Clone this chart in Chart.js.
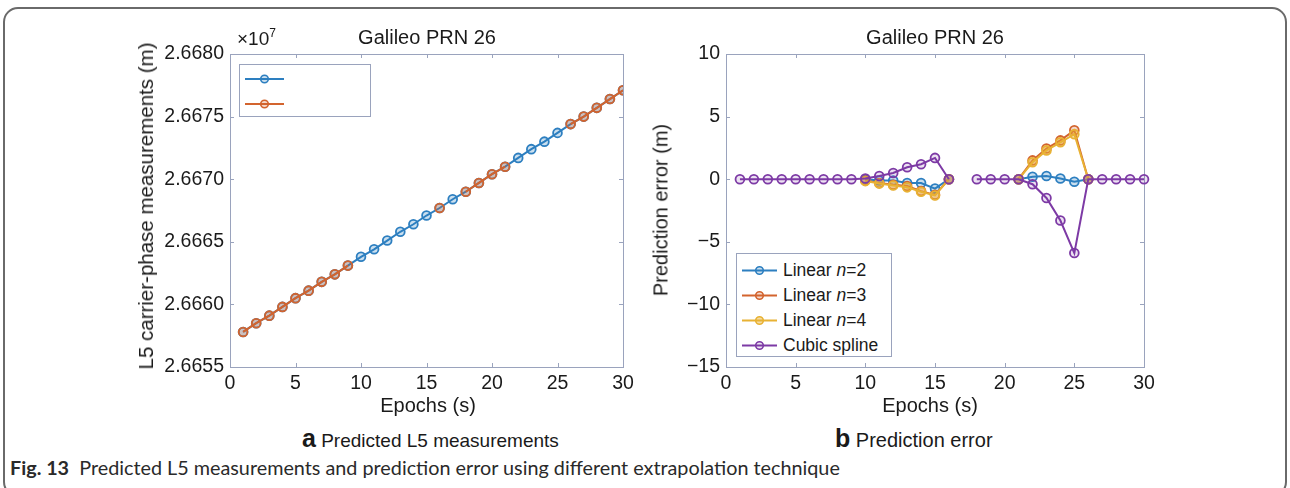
<!DOCTYPE html>
<html lang="en">
<head>
<meta charset="UTF-8">
<title>Galileo PRN 26 - predicted L5 measurements and prediction error</title>
<script src="https://cdn.jsdelivr.net/npm/chart.js"></script>
<style>
    body {
        margin: 0;
        background: #ffffff;
        font-family: "Liberation Sans", Arial, sans-serif;
        color: #1a1a1a;
    }
    #figure {
        position: relative;
        width: 1290px;
        height: 488px;
        overflow: hidden;
    }
    .frame {
        position: absolute;
        left: 3px;
        top: 7px;
        width: 1280px;
        height: 486px;
        border: 2px solid #6a6a6a;
        border-radius: 15px;
    }
    canvas { position: absolute; }
    .txt {
        position: absolute;
        white-space: nowrap;
        transform: translate(-50%, -50%);
    }
    .txtL {
        position: absolute;
        white-space: nowrap;
        transform: translateY(-50%);
    }
    .ylab {
        position: absolute;
        white-space: nowrap;
        transform: translate(-50%, -50%) rotate(-90deg);
    }
    .legend {
        position: absolute;
        background: #ffffff;
        border: 1px solid #9aa3bd;
        box-sizing: border-box;
    }
    .legend .row {
        position: absolute;
        left: 5px;
        display: flex;
        align-items: center;
        transform: translateY(-50%);
        font-size: 17.5px;
        white-space: nowrap;
    }
    .legend svg { margin-right: 6px; }
    .sub b { font-size: 25px; }
    .caption {
        font-family: Lato, "Open Sans", sans-serif;
        font-size: 19.8px;
        color: #2a2a2a;
    }
</style>
</head>
<body>
<div id="figure">
    <div class="frame"></div>

    <canvas id="chartL5" width="520" height="370" style="left:130px; top:30px;"></canvas>
    <canvas id="chartErr" width="540" height="370" style="left:630px; top:30px;"></canvas>

    <div class="txt" style="left:427px; top:37px; font-size:20px;">Galileo PRN 26</div>
    <div class="txtL" style="left:237px; top:38px; font-size:19px;">×10<sup style="font-size:12px;">7</sup></div>
    <div class="txt" style="left:935px; top:37px; font-size:20px;">Galileo PRN 26</div>

    <div class="ylab" style="left:146px; top:206px; font-size:20.5px;">L5 carrier-phase measurements (m)</div>
    <div class="ylab" style="left:661px; top:210px; font-size:20px;">Prediction error (m)</div>

    <div class="txt" style="left:428px; top:405px; font-size:20px;">Epochs (s)</div>
    <div class="txt" style="left:930px; top:405px; font-size:20px;">Epochs (s)</div>

    <div class="txtL sub" style="left:302px; top:438px; font-size:19px;"><b>a</b> Predicted L5 measurements</div>
    <div class="txtL sub" style="left:835px; top:438px; font-size:20px;"><b>b</b> Prediction error</div>

    <div class="txtL caption" style="left:10px; top:467px;"><b>Fig. 13</b>&nbsp; Predicted L5 measurements and prediction error using different extrapolation technique</div>

    <div id="legendL5" class="legend" style="left:239px; top:64px; width:132px; height:53px;"></div>
    <div id="legendErr" class="legend" style="left:736px; top:253px; width:156px; height:104px;"></div>
</div>

<script>
    // ---- data ----
    const epochs = [1, 2, 3, 4, 5, 6, 7, 8, 9, 10, 11, 12, 13, 14, 15,
                    16, 17, 18, 19, 20, 21, 22, 23, 24, 25, 26, 27, 28, 29, 30];

    // L5 carrier-phase (x 10^7 m), blue = full track, orange = overlaid epochs
    const l5Blue = [2.66578, 2.66585, 2.66591, 2.66598, 2.66605, 2.66611, 2.66618, 2.66624, 2.66631, 2.66638,
                    2.66644, 2.66651, 2.66658, 2.66664, 2.66671, 2.66677, 2.66684, 2.66690, 2.66697, 2.66704,
                    2.66710, 2.66717, 2.66724, 2.66730, 2.66737, 2.66744, 2.66750, 2.66757, 2.66764, 2.66771];
    const l5Orange = [2.66578, 2.66585, 2.66591, 2.66598, 2.66605, 2.66611, 2.66618, 2.66624, 2.66631, null,
                      null, null, null, null, null, 2.66677, null, 2.66690, 2.66697, 2.66704,
                      2.66710, null, null, null, null, 2.66744, 2.66750, 2.66757, 2.66764, 2.66771];

    // prediction error (m)
    const linearN2 = [null, null, null, null, null, null, null, null, null, 0,
                      -0.1, -0.1, -0.3, -0.3, -0.75, 0, null, null, null, null,
                      0, 0.2, 0.25, 0.05, -0.2, 0, null, null, null, null];
    const linearN3 = [null, null, null, null, null, null, null, null, null, -0.1,
                      -0.3, -0.45, -0.55, -0.95, -1.25, 0, null, null, null, null,
                      0, 1.5, 2.45, 3.1, 3.9, 0, null, null, null, null];
    const linearN4 = [null, null, null, null, null, null, null, null, null, -0.15,
                      -0.35, -0.5, -0.65, -1.0, -1.3, 0, null, null, null, null,
                      0, 1.35, 2.3, 2.95, 3.6, 0, null, null, null, null];
    const cubicSpline = [0, 0, 0, 0, 0, 0, 0, 0, 0, 0.05,
                         0.25, 0.5, 0.95, 1.2, 1.7, 0, null, 0, 0, 0,
                         0, -0.4, -1.5, -3.3, -5.9, 0, 0, 0, 0, 0];

    const errNames = ['Linear <i>n</i>=2', 'Linear <i>n</i>=3', 'Linear <i>n</i>=4', 'Cubic spline'];

    // ---- styles ----
    const blue = '#2d7fc0', orange = '#d3642e', yellow = '#e8b234', purple = '#7d3aa5';
    const fills = { [blue]: 'rgba(45,127,192,0.25)', [orange]: 'rgba(211,100,46,0.25)',
                    [yellow]: 'rgba(232,178,52,0.45)', [purple]: 'rgba(125,58,165,0.15)' };
    const frameColor = '#9aa3bd';
    const tickColor = '#1a1a1a';
    const tickLen = 4;

    Chart.defaults.font.family = "'Liberation Sans', Arial, sans-serif";
    Chart.defaults.color = tickColor;

    // box round the axes plus inward tick marks, like the original figure
    const axisBox = {
        id: 'axisBox',
        beforeDatasetsDraw(chart) {
            const { ctx, chartArea: a } = chart;
            const xs = chart.scales.x, ys = chart.scales.y;
            ctx.save();
            ctx.strokeStyle = frameColor;
            ctx.lineWidth = 1;
            ctx.strokeRect(Math.round(a.left) + 0.5, Math.round(a.top) + 0.5,
                           Math.round(a.width), Math.round(a.height));
            ctx.beginPath();
            xs.ticks.forEach(t => {
                const px = Math.round(xs.getPixelForValue(t.value)) + 0.5;
                ctx.moveTo(px, a.bottom); ctx.lineTo(px, a.bottom - tickLen);
                ctx.moveTo(px, a.top); ctx.lineTo(px, a.top + tickLen);
            });
            ys.ticks.forEach(t => {
                const py = Math.round(ys.getPixelForValue(t.value)) + 0.5;
                ctx.moveTo(a.left, py); ctx.lineTo(a.left + tickLen, py);
                ctx.moveTo(a.right, py); ctx.lineTo(a.right - tickLen, py);
            });
            ctx.stroke();
            ctx.restore();
        }
    };

    function series(label, values, color, order) {
        return {
            label: label,
            order: order,
            data: epochs.map((e, i) => ({ x: e, y: values[i] })),
            borderColor: color,
            backgroundColor: color,
            pointBackgroundColor: fills[color],
            pointBorderColor: color,
            pointRadius: 4.4,
            pointBorderWidth: 1.8,
            borderWidth: 2,
            tension: 0,
            spanGaps: false
        };
    }

    function makeChart(id, datasets, yOpts, yWidth, rightPad, clip) {
        return new Chart(document.getElementById(id), {
            type: 'line',
            data: { datasets: datasets },
            plugins: [axisBox],
            options: {
                responsive: false,
                animation: false,
                devicePixelRatio: 1,
                clip: clip,
                layout: { padding: { top: 24, right: rightPad, left: 0, bottom: 0 } },
                plugins: { legend: { display: false }, title: { display: false }, tooltip: { enabled: false } },
                scales: {
                    x: {
                        type: 'linear', min: 0, max: 30,
                        ticks: { stepSize: 5, autoSkip: false, maxRotation: 0, padding: 5, font: { size: 19.5 } },
                        grid: { display: false, drawTicks: false },
                        border: { display: false },
                        afterFit(s) { s.height = 33; }
                    },
                    y: Object.assign({
                        grid: { display: false, drawTicks: false },
                        border: { display: false },
                        afterFit(s) { s.width = yWidth; }
                    }, yOpts)
                }
            }
        });
    }

    makeChart('chartL5', [
        series('', l5Blue, blue, 2),
        series('', l5Orange, orange, 1)
    ], {
        min: 2.6655, max: 2.668,
        ticks: { stepSize: 0.0005, padding: 6, font: { size: 19.5 }, callback: v => v.toFixed(4) }
    }, 100, 27, undefined);

    makeChart('chartErr', [
        series('Linear n=2', linearN2, blue, 4),
        series('Linear n=3', linearN3, orange, 3),
        series('Linear n=4', linearN4, yellow, 2),
        series('Cubic spline', cubicSpline, purple, 1)
    ], {
        min: -15, max: 10,
        ticks: { stepSize: 5, padding: 6, font: { size: 19.5 },
                 callback: v => (v < 0 ? '\u2212' + Math.abs(v) : String(v)) }
    }, 96, 26, false);

    // legends drawn as html boxes
    function sample(color, w) {
        return '<svg width="' + w + '" height="12"><line x1="0" y1="6" x2="' + w + '" y2="6" stroke="' + color +
               '" stroke-width="2"/><circle cx="' + (w / 2) + '" cy="6" r="3.8" fill="' + fills[color] +
               '" stroke="' + color + '" stroke-width="1.6"/></svg>';
    }
    function buildLegend(id, colors, names, w, rowTop, rowGap) {
        const box = document.getElementById(id);
        colors.forEach((c, i) => {
            const row = document.createElement('div');
            row.className = 'row';
            row.style.top = (rowTop + i * rowGap) + 'px';
            row.innerHTML = sample(c, w) + '<span>' + (names[i] || '') + '</span>';
            box.appendChild(row);
        });
    }
    buildLegend('legendL5', [blue, orange], ['', ''], 39, 14, 25);
    buildLegend('legendErr', [blue, orange, yellow, purple], errNames, 35, 16, 25);
</script>
</body>
</html>
